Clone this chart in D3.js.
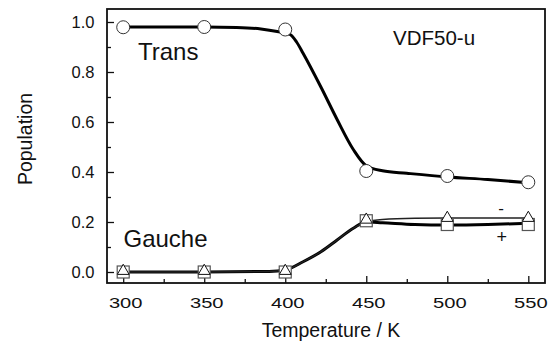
<!DOCTYPE html>
<html>
<head>
<meta charset="utf-8">
<script src="https://cdn.jsdelivr.net/npm/d3@7"></script>
<style>
  body { margin: 0; background: #fff; }
  svg { display: block; font-family: "Liberation Sans", Arial, sans-serif; }
</style>
</head>
<body>
<div id="chart"></div>
<script>
// measured points
var temps = [300, 350, 400, 450, 500, 550];
var trans = [0.979, 0.98, 0.97, 0.404, 0.384, 0.359];
var gaucheMinus = [0.0, 0.0, 0.0, 0.205, 0.212, 0.212];   // triangles
var gauchePlus = [0.0, 0.0, 0.0, 0.205, 0.19, 0.19];     // squares

// fitted curves
var transCurveT = [300, 350, 370, 385, 395, 403, 407, 411, 422, 432, 442, 450, 460, 475, 500, 525, 550];
var transCurveP = [0.98, 0.98, 0.978, 0.972, 0.962, 0.95, 0.92, 0.875, 0.74, 0.61, 0.49, 0.425, 0.405, 0.395, 0.38, 0.37, 0.357];
var gaucheCurveT = [300, 350, 390, 400, 411, 422, 432, 442, 450, 460, 480, 500, 525, 550];
var gaucheMinusCurve = [0.0, 0.0, 0.002, 0.008, 0.041, 0.081, 0.128, 0.175, 0.2, 0.21, 0.215, 0.216, 0.216, 0.216];
var gauchePlusCurve = [0.0, 0.0, 0.002, 0.008, 0.041, 0.081, 0.128, 0.175, 0.2, 0.197, 0.19, 0.188, 0.19, 0.195];

var xTicks = [300, 350, 400, 450, 500, 550];
var xMinor = [325, 375, 425, 475, 525];
var yTicks = [0.0, 0.2, 0.4, 0.6, 0.8, 1.0];
var yMinor = [0.1, 0.3, 0.5, 0.7, 0.9];

function pairs(xs, ys) {
  var out = [];
  for (var i = 0; i < xs.length; i++) {
    out.push({T: xs[i], P: ys[i]});
  }
  return out;
}

var W = 551, H = 342;
var margin = {top: 9, right: 6, bottom: 59, left: 107},
    width = W - margin.left - margin.right,
    height = H - margin.top - margin.bottom;

var svg = d3.select('#chart')
  .append('svg')
    .attr('width', W)
    .attr('height', H)
  .append('g')
    .attr('transform', 'translate(' + margin.left + ',' + margin.top + ')');

var x = d3.scaleLinear().domain([290, 560.3]).range([0, width]);
var y = d3.scaleLinear().domain([-0.044, 1.052]).range([height, 0]);

// minor ticks
svg.append('g')
  .attr('transform', 'translate(0,' + height + ')')
  .call(d3.axisBottom(x).tickValues(xMinor).tickSize(-4).tickFormat(''))
  .call(function(g) { g.select('.domain').remove(); });
svg.append('g')
  .call(d3.axisLeft(y).tickValues(yMinor).tickSize(-4).tickFormat(''))
  .call(function(g) { g.select('.domain').remove(); });

// major ticks + labels
var xAxis = svg.append('g')
  .attr('transform', 'translate(0,' + height + ')')
  .call(d3.axisBottom(x).tickValues(xTicks).tickSizeInner(-7).tickSizeOuter(0).tickPadding(14).tickFormat(d3.format('d')));
xAxis.select('.domain').remove();
xAxis.selectAll('text')
  .attr('font-size', 15.5)
  .attr('fill', '#111')
  .attr('transform', 'translate(2,0) scale(1.3,1)');

var yAxis = svg.append('g')
  .call(d3.axisLeft(y).tickValues(yTicks).tickSizeInner(-7).tickSizeOuter(0).tickPadding(12.5).tickFormat(d3.format('.1f')));
yAxis.select('.domain').remove();
yAxis.selectAll('text')
  .attr('font-size', 16.5)
  .attr('fill', '#111');

svg.selectAll('.tick line').attr('stroke', '#111').attr('stroke-width', 1.3);

// frame
svg.append('rect')
  .attr('x', 0).attr('y', 0)
  .attr('width', width).attr('height', height)
  .attr('fill', 'none')
  .attr('stroke', '#111')
  .attr('stroke-width', 1.8);

var line = d3.line()
  .x(function(d) { return x(d.T); })
  .y(function(d) { return y(d.P); })
  .curve(d3.curveMonotoneX);

svg.append('path')
  .datum(pairs(transCurveT, transCurveP))
  .attr('fill', 'none').attr('stroke', '#000').attr('stroke-width', 3)
  .attr('d', line);

svg.append('path')
  .datum(pairs(gaucheCurveT, gauchePlusCurve))
  .attr('fill', 'none').attr('stroke', '#000').attr('stroke-width', 3)
  .attr('d', line);

svg.append('path')
  .datum(pairs(gaucheCurveT, gaucheMinusCurve))
  .attr('fill', 'none').attr('stroke', '#222').attr('stroke-width', 1.4)
  .attr('d', line);

// markers
svg.selectAll('circle.trans')
  .data(pairs(temps, trans))
  .enter().append('circle')
    .attr('class', 'trans')
    .attr('cx', function(d) { return x(d.T); })
    .attr('cy', function(d) { return y(d.P); })
    .attr('r', 6.5)
    .attr('fill', '#fff')
    .attr('stroke', '#333')
    .attr('stroke-width', 1);

svg.selectAll('rect.plus')
  .data(pairs(temps, gauchePlus))
  .enter().append('rect')
    .attr('class', 'plus')
    .attr('x', function(d) { return x(d.T) - 6; })
    .attr('y', function(d) { return y(d.P) - 6; })
    .attr('width', 12).attr('height', 12)
    .attr('fill', '#fff')
    .attr('stroke', '#555')
    .attr('stroke-width', 1.2);

var tri = d3.symbol().type(d3.symbolTriangle).size(60);
svg.selectAll('path.minus')
  .data(pairs(temps, gaucheMinus))
  .enter().append('path')
    .attr('class', 'minus')
    .attr('transform', function(d) { return 'translate(' + x(d.T) + ',' + (y(d.P) - 1) + ')'; })
    .attr('d', tri)
    .attr('fill', '#fff')
    .attr('stroke', '#111')
    .attr('stroke-width', 1);

// annotations
svg.append('text').attr('x', 31).attr('y', 50.5)
  .attr('font-size', 24).attr('fill', '#111').text('Trans');
svg.append('text').attr('x', 16.5).attr('y', 237.5)
  .attr('font-size', 24).attr('fill', '#111').text('Gauche');
svg.append('text').attr('x', 286).attr('y', 36)
  .attr('font-size', 20.5).attr('fill', '#111').text('VDF50-u');
svg.append('text').attr('x', 394).attr('y', 205)
  .attr('font-size', 17).attr('text-anchor', 'middle').attr('fill', '#111').text('-');
svg.append('text').attr('x', 394.7).attr('y', 234)
  .attr('font-size', 18).attr('text-anchor', 'middle').attr('fill', '#111').text('+');

// axis titles
svg.append('text')
  .attr('x', 331 - margin.left).attr('y', 336.7 - margin.top)
  .attr('text-anchor', 'middle')
  .attr('font-size', 19.5).attr('fill', '#111')
  .text('Temperature / K');

svg.append('text')
  .attr('transform', 'translate(' + (31.7 - margin.left) + ',' + (139 - margin.top) + ') rotate(-90)')
  .attr('text-anchor', 'middle')
  .attr('font-size', 19.5).attr('fill', '#111')
  .text('Population');
</script>
</body>
</html>
